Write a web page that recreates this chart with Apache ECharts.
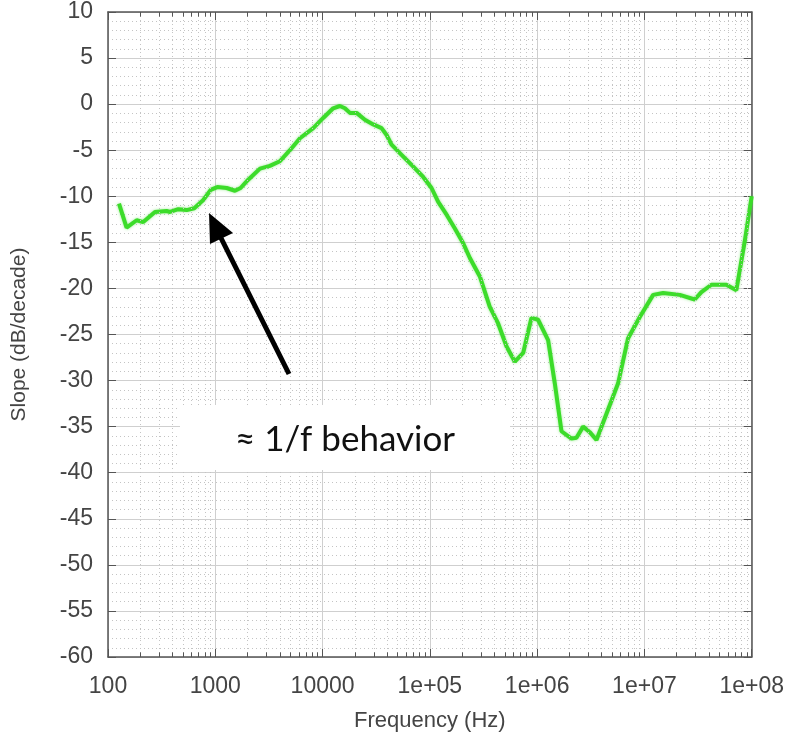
<!DOCTYPE html>
<html>
<head>
<meta charset="utf-8">
<script src="https://cdn.jsdelivr.net/npm/echarts@6/dist/echarts.min.js"></script>
<style>
  html, body { margin: 0; padding: 0; background: #fff; }
  #chart { width: 787px; height: 749px; }
</style>
</head>
<body>
<div id="chart"></div>
<script>
// frequency (Hz) and slope (dB/decade)
var freqs = [126.6, 149, 185, 213, 274, 352, 379, 452, 541, 637, 773, 906, 1044, 1277, 1526, 1722,
  2028, 2609, 3228, 4000, 4963, 6153, 8190, 10140, 12560, 14500, 16150, 17980, 20740, 24790,
  29650, 35480, 39520, 43970, 54500, 67550, 86700, 103700, 119600, 143200, 171000, 204600,
  236000, 292400, 362000, 433000, 518700, 619500, 741000, 885000, 1021000, 1265000, 1461000,
  1686000, 2089000, 2327000, 2684000, 3097000, 3574000, 4429000, 5686000, 7043000, 9057000,
  12060000, 14940000, 21340000, 29440000, 33980000, 42090000, 58080000, 71900000, 86100000, 100000000];
var slopes = [-10.8, -13.4, -12.6, -12.8, -11.7, -11.6, -11.7, -11.4, -11.5, -11.3, -10.4, -9.3, -9.0, -9.1, -9.4, -9.1,
  -8.2, -7.0, -6.7, -6.2, -5.0, -3.7, -2.6, -1.5, -0.45, -0.2, -0.45, -0.95, -0.95, -1.7,
  -2.2, -2.6, -3.35, -4.4, -5.5, -6.6, -7.9, -9.1, -10.6, -12.0, -13.5, -15.1,
  -16.7, -18.7, -22.0, -23.8, -26.3, -27.95, -27.0, -23.2, -23.4, -25.6, -30.3,
  -35.5, -36.3, -36.2, -35.0, -35.6, -36.45, -33.6, -30.3, -25.4, -23.1,
  -20.7, -20.5, -20.7, -21.2, -20.4, -19.6, -19.6, -20.2, -14.9, -10.0];

var decades = [100, 1000, 10000, 1e5, 1e6, 1e7];
var minorSteps = [2, 3, 4, 5, 6, 7, 8, 9];
var yTicks = [-60, -55, -50, -45, -40, -35, -30, -25, -20, -15, -10, -5, 0, 5, 10];

var data = freqs.map(function (f, i) { return [f, slopes[i]]; });

var minorFreqs = [];
decades.forEach(function (d) {
  minorSteps.forEach(function (m) { minorFreqs.push(d * m); });
});

var gridMarks = [];
minorFreqs.forEach(function (f) {
  gridMarks.push({ xAxis: f, lineStyle: { type: [1, 3], color: '#c4c4c4', width: 1 } });
  // small inward ticks on bottom and top frame
  gridMarks.push([{ coord: [f, -60], lineStyle: { type: 'solid', color: '#555', width: 1 } }, { coord: [f, -59.5] }]);
  gridMarks.push([{ coord: [f, 10], lineStyle: { type: 'solid', color: '#555', width: 1 } }, { coord: [f, 9.5] }]);
});

function freqLabel(v) {
  var e = Math.round(Math.log10(v));
  return e < 5 ? String(Math.round(v)) : '1e+0' + e;
}

var font = 'Liberation Sans, Arial, sans-serif';
var chart = echarts.init(document.getElementById('chart'));

chart.setOption({
  animation: false,
  backgroundColor: '#fff',
  grid: { left: 108, right: 35, top: 12, bottom: 92 },
  xAxis: [{
    type: 'log',
    logBase: 10,
    min: 100,
    max: 1e8,
    name: 'Frequency (Hz)',
    nameLocation: 'middle',
    nameGap: 53,
    nameTextStyle: { fontFamily: font, fontSize: 22, color: '#444' },
    axisLine: { show: true, onZero: false, lineStyle: { color: '#555', width: 1.5 } },
    axisTick: { show: true, inside: true, length: 8, lineStyle: { color: '#555' } },
    axisLabel: { margin: 18, fontFamily: font, fontSize: 23, color: '#444', formatter: freqLabel },
    splitLine: { show: true, lineStyle: { color: '#cfcfcf', width: 1 } }
  }, {
    type: 'log',
    logBase: 10,
    min: 100,
    max: 1e8,
    position: 'top',
    axisLine: { show: true, onZero: false, lineStyle: { color: '#555', width: 1.5 } },
    axisTick: { show: true, inside: true, length: 8, lineStyle: { color: '#555' } },
    axisLabel: { show: false },
    splitLine: { show: false }
  }],
  yAxis: [{
    type: 'value',
    min: yTicks[0],
    max: yTicks[yTicks.length - 1],
    interval: 5,
    name: 'Slope (dB/decade)',
    nameLocation: 'middle',
    nameGap: 78,
    nameTextStyle: { fontFamily: font, fontSize: 21, color: '#444' },
    axisLine: { show: true, onZero: false, lineStyle: { color: '#555', width: 1.5 } },
    axisTick: { show: true, inside: true, length: 8, lineStyle: { color: '#555' } },
    axisLabel: { margin: 15, fontFamily: font, fontSize: 23, color: '#444' },
    splitLine: { show: true, lineStyle: { color: '#cfcfcf', width: 1 } },
    minorTick: { show: false, splitNumber: 5 },
    minorSplitLine: { show: true, lineStyle: { color: '#c4c4c4', type: [1, 3], width: 1 } }
  }, {
    type: 'value',
    min: yTicks[0],
    max: yTicks[yTicks.length - 1],
    interval: 5,
    position: 'right',
    axisLine: { show: true, onZero: false, lineStyle: { color: '#555', width: 1.5 } },
    axisTick: { show: true, inside: true, length: 8, lineStyle: { color: '#555' } },
    axisLabel: { show: false },
    splitLine: { show: false }
  }],
  series: [{
    name: 'grid',
    type: 'line',
    data: [],
    z: 1,
    silent: true,
    markLine: {
      silent: true,
      symbol: 'none',
      animation: false,
      label: { show: false },
      emphasis: { disabled: true },
      data: gridMarks
    }
  }, {
    name: 'slope',
    type: 'line',
    data: data,
    z: 3,
    showSymbol: false,
    smooth: false,
    lineStyle: { color: '#3cdc2a', width: 4, shadowColor: 'rgba(60,220,42,0.5)', shadowBlur: 3 },
    itemStyle: { color: '#3cdc2a' }
  }],
  graphic: [{
    type: 'rect',
    shape: { x: 180, y: 405, width: 330, height: 65 },
    style: { fill: '#fff' },
    z: 10
  }, {
    type: 'text',
    x: 345,
    y: 440,
    style: {
      text: '\u2248 1/f behavior',
      font: '35px Lato, "Open Sans", sans-serif',
      fill: '#111',
      align: 'center',
      verticalAlign: 'middle'
    },
    z: 11
  }, {
    type: 'line',
    shape: { x1: 289, y1: 374, x2: 221, y2: 238 },
    style: { stroke: '#000', lineWidth: 5 },
    z: 11
  }, {
    type: 'polygon',
    shape: { points: [[209, 213], [233, 233], [210, 244]] },
    style: { fill: '#000' },
    z: 11
  }]
});
</script>
</body>
</html>
